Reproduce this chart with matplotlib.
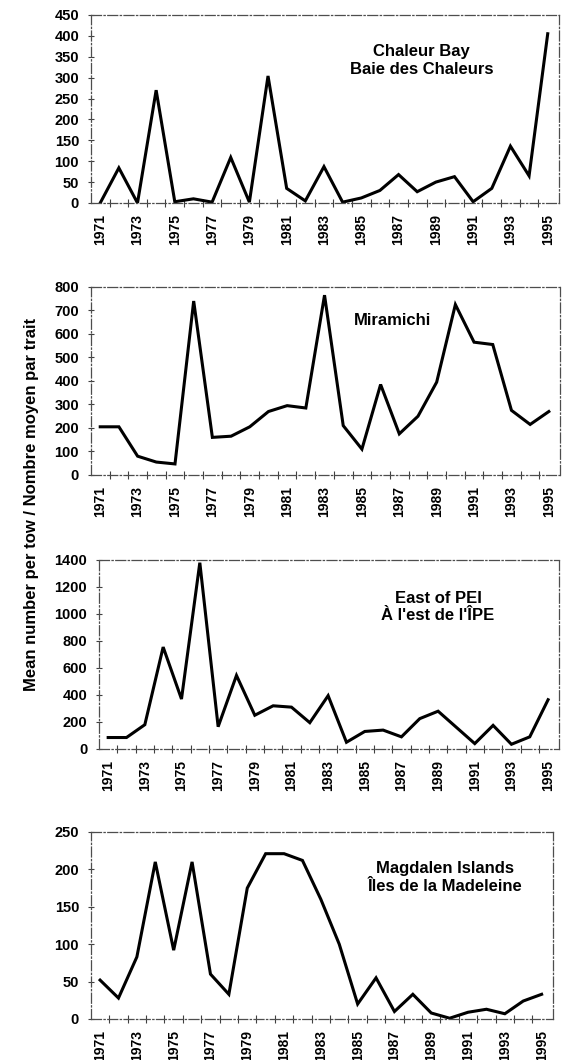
import numpy as np
import matplotlib
matplotlib.use('Agg')
import matplotlib.pyplot as plt
from matplotlib.ticker import FixedLocator

plt.rcParams['font.family'] = ['Liberation Sans', 'DejaVu Sans']

years = list(range(1971, 1996))

# Chaleur Bay / Baie des Chaleurs
chaleur = [0, 84, 0, 270, 3, 10, 2, 109, 2, 304, 35, 5, 87, 2, 12, 30,
           68, 27, 50, 63, 3, 35, 136, 65, 405]
# Miramichi
miramichi = [205, 205, 80, 55, 47, 740, 160, 165, 205, 270, 295, 285, 765,
             210, 110, 385, 175, 250, 395, 725, 565, 555, 275, 215, 270]
# East of PEI / À l'est de l'ÎPE
pei = [85, 85, 180, 755, 370, 1380, 165, 545, 250, 320, 310, 195, 395, 50,
       130, 140, 90, 225, 280, 160, 40, 175, 35, 90, 365]
# Magdalen Islands / Îles de la Madeleine
magdalen = [52, 28, 83, 210, 92, 210, 60, 33, 175, 221, 221, 212, 160, 100,
            20, 55, 10, 33, 8, 1, 9, 13, 7, 24, 33]

panels = [
    (chaleur, 'Chaleur Bay\nBaie des Chaleurs', 450, 50),
    (miramichi, 'Miramichi', 800, 100),
    (pei, "East of PEI\nÀ l'est de l'ÎPE", 1400, 200),
    (magdalen, 'Magdalen Islands\nÎles de la Madeleine', 250, 50),
]

# position des axes (fraction de la figure)
boxes = [
    [0.160, 0.8085, 0.824, 0.1774],
    [0.160, 0.5519, 0.826, 0.1774],
    [0.1743, 0.2934, 0.810, 0.1783],
    [0.160, 0.0387, 0.813, 0.1764],
]
text_pos = [(0.707, 0.758), (0.643, 0.819), (0.737, 0.751), (0.766, 0.757)]

fig = plt.figure(figsize=(5.68, 10.6), dpi=100)
idx = np.arange(len(years))

for (vals, label, ymax, ystep), box, tp in zip(panels, boxes, text_pos):
    ax = fig.add_axes(box)
    ax.plot(idx, vals, color='black', lw=2.2, solid_joinstyle='miter')
    ax.set_xlim(-0.5, len(years) - 0.4)
    ax.set_ylim(0, ymax)
    ax.set_yticks(np.arange(0, ymax + 1, ystep))

    # étiquettes : une année sur deux
    ax.set_xticks(idx[::2])
    ax.set_xticklabels([str(y) for y in years[::2]], rotation=90,
                       fontsize=10, fontweight='bold')
    ax.tick_params(axis='x', which='major', length=0, pad=8)
    ax.xaxis.set_minor_locator(FixedLocator(idx[:-1] + 0.5))
    ax.tick_params(axis='x', which='minor', direction='inout', length=6,
                   width=0.8, color='0.25')
    ax.tick_params(axis='y', direction='inout', length=5, width=0.8,
                   color='0.25', pad=6)
    for t in ax.get_yticklabels():
        t.set_fontsize(10.5)
        t.set_fontweight('bold')

    for side in ['top', 'right', 'bottom', 'left']:
        ax.spines[side].set_linewidth(0.9)
        ax.spines[side].set_color('0.3')
        ax.spines[side].set_linestyle((0, (8, 2, 1, 2)))

    ax.text(tp[0], tp[1], label, transform=ax.transAxes, ha='center',
            va='center', fontsize=12, fontweight='bold', linespacing=1.2)

fig.text(0.055, 0.524, 'Mean number per tow / Nombre moyen par trait',
         rotation=90, ha='center', va='center', fontsize=12,
         fontweight='bold')

plt.savefig('out.png', dpi=100)
plt.close()
